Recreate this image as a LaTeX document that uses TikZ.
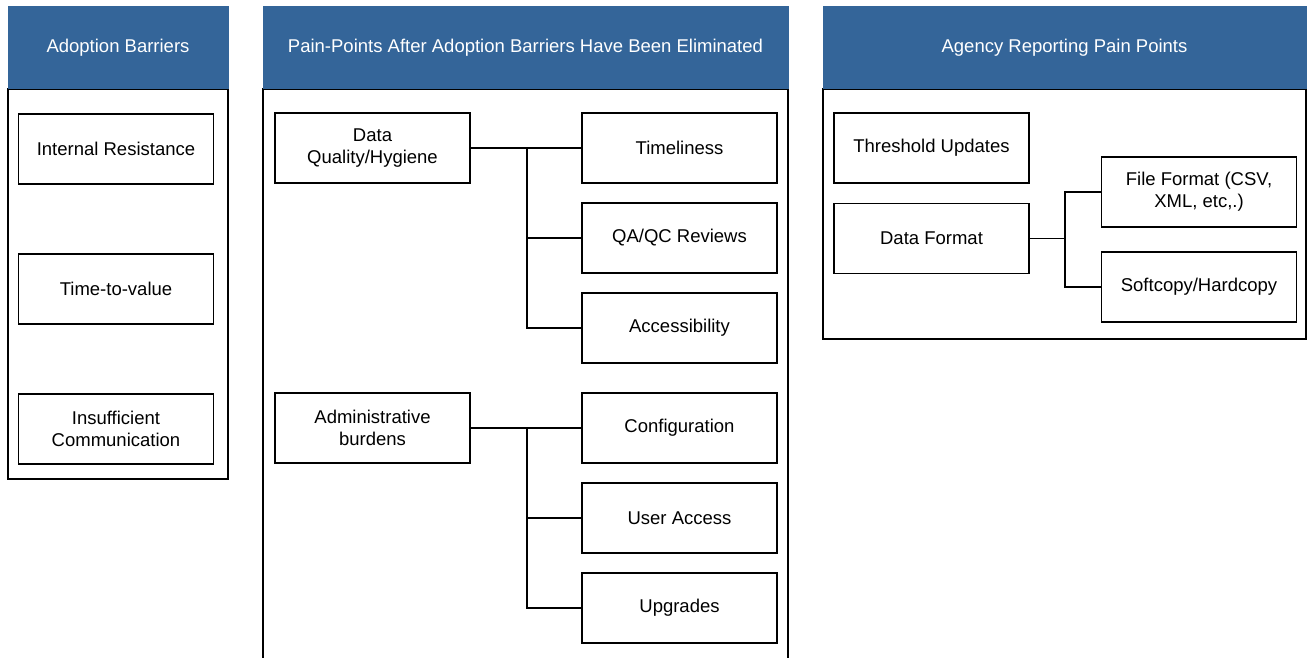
\documentclass[tikz,border=0pt]{standalone}
\usepackage{fontspec}
\setmainfont{Liberation Sans}
\definecolor{headBlue}{RGB}{52,101,153}
\begin{document}
\begin{tikzpicture}
        [x=1pt, y=-1pt,
        head/.style={rectangle, fill=headBlue, text=white, minimum height=83pt, inner sep=0pt, font=\fontsize{18.5}{22}\selectfont},
        panel/.style={rectangle, draw, line width=1.5pt, inner sep=0pt},
        box/.style={rectangle, draw, line width=1.8pt, minimum width=195pt, minimum height=70pt, inner sep=0pt, align=center, font=\fontsize{18.5}{22}\selectfont},
        link/.style={line width=1.2pt}]
        \useasboundingbox (0,0) rectangle (1308,657);

        % panels
        \node[panel, minimum width=220pt, minimum height=390pt] (P1) at (118,284) {};
        \node[panel, minimum width=525pt, minimum height=600pt] (P2) at (525.5,389) {};
        \node[panel, minimum width=483pt, minimum height=250pt] (P3) at (1064.5,214) {};
        \node[head, minimum width=221pt] (H1) at (118,47.5) {Adoption Barriers};
        \node[head, minimum width=526pt] (H2) at (525.5,47.5) {Pain-Points After Adoption Barriers Have Been Eliminated};
        \node[head, minimum width=484pt] (H3) at (1064.5,47.5) {Agency Reporting Pain Points};

        % adoption barriers
        \node[box] (IR) at (116,149) {Internal Resistance};
        \node[box] (TV) at (116,289) {Time-to-value};
        \node[box] (IC) at (116,429) {Insufficient\\Communication};

        % pain-points
        \node[box] (DQ) at (372.5,148) {Data\\Quality/Hygiene};
        \node[box] (AB) at (372.5,428) {Administrative\\burdens};
        \node[box] (TL) at (679.5,148) {Timeliness};
        \node[box] (QA) at (679.5,238) {QA/QC Reviews};
        \node[box] (AC) at (679.5,328) {Accessibility};
        \node[box] (CF) at (679.5,428) {Configuration};
        \node[box] (UA) at (679.5,518) {User Access};
        \node[box] (UG) at (679.5,608) {Upgrades};

        % agency reporting
        \node[box] (TU) at (931.5,148) {Threshold Updates};
        \node[box] (DF) at (931.5,238.5) {Data Format};
        \node[box] (FF) at (1199,192) {File Format (CSV,\\XML, etc,.)};
        \node[box] (SH) at (1199,287) {Softcopy/Hardcopy};

        \coordinate (J1) at (527,148);
        \coordinate (J2) at (527,428);
        \coordinate (J3) at (1065,238.5);

        \draw[link] (DQ) -- (TL);
        \draw[link] (J1) |- (QA);
        \draw[link] (J1) |- (AC);
        \draw[link] (AB) -- (CF);
        \draw[link] (J2) |- (UA);
        \draw[link] (J2) |- (UG);
        \draw[link] (DF) -- (J3);
        \draw[link] (J3) |- (FF);
        \draw[link] (J3) |- (SH);

    \end{tikzpicture}
\end{document}
